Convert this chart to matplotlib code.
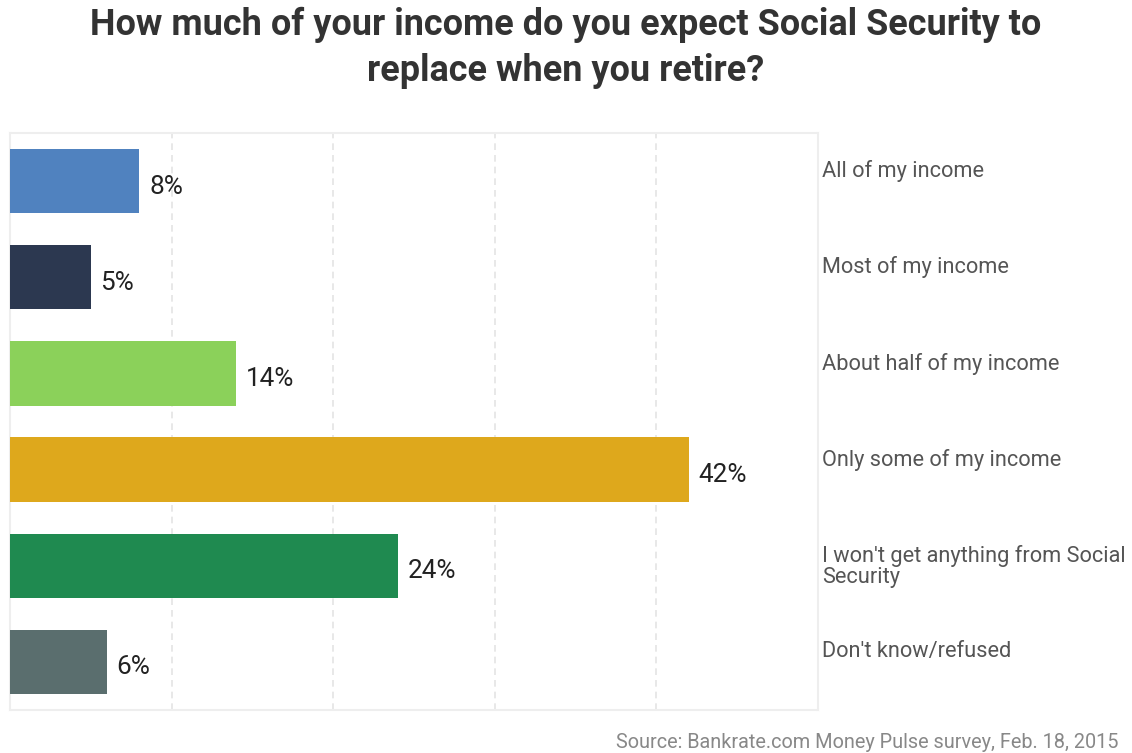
import matplotlib
matplotlib.use("Agg")
import matplotlib.pyplot as plt

categories = ["All of my income", "Most of my income", "About half of my income",
              "Only some of my income", "I won't get anything from Social\nSecurity",
              "Don't know/refused"]
values = [8, 5, 14, 42, 24, 6]
value_labels = ["8%", "5%", "14%", "42%", "24%", "6%"]
colors = ["#5082BF", "#2C3850", "#8BD15A", "#DEA81C", "#1F8A50", "#5A6E6E"]
title = "How much of your income do you expect Social Security to\nreplace when you retire?"
source = "Source: Bankrate.com Money Pulse survey, Feb. 18, 2015"

plt.rcParams['font.family'] = ['Roboto', 'DejaVu Sans']

fig = plt.figure(figsize=(11.32, 7.53), dpi=100)
ax = fig.add_axes([10/1132, 1 - 710/753, 808/1132, 577/753])

y = list(range(len(categories)))
ax.barh(y, values, height=0.67, color=colors, edgecolor="none", zorder=3)
ax.set_ylim(len(categories) - 0.5, -0.5)
ax.set_xlim(0, 50)

for yi, v, lab in zip(y, values, value_labels):
    ax.annotate(lab, (v, yi), xytext=(7, -4), textcoords="offset points",
                va="center", ha="left", fontsize=18.8, color="#222222")
    ax.annotate(categories[yi], (50, yi), xytext=(3, 15), textcoords="offset points",
                va="top", ha="left", fontsize=15.7, color="#555555",
                linespacing=1.02, annotation_clip=False)

ax.set_xticks([10, 20, 30, 40])
ax.set_yticks([])
ax.tick_params(axis="x", length=0, labelbottom=False)
ax.grid(axis="x", color="#e4e4e4", linestyle=(0, (4, 3)), linewidth=1.2, zorder=0)
for s in ax.spines.values():
    s.set_color("#eeeeee")
    s.set_linewidth(1.5)

fig.text(0.5, 1 - 48/753, title, ha="center", va="center", fontsize=25.9,
         fontweight="bold", color="#333333", linespacing=1.34)
fig.text(1118/1132, 1 - 742/753, source, ha="right", va="center", fontsize=14.3,
         color="#888888")

fig.savefig("out.png", dpi=100)
